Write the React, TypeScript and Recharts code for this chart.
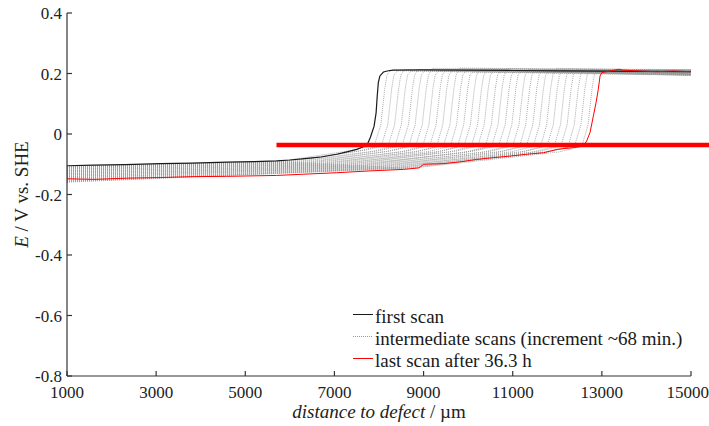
import { LineChart, Line, XAxis, YAxis, ReferenceLine, Legend } from 'recharts';

type Pt = [number, number];

const xTicks = [1000, 3000, 5000, 7000, 9000, 11000, 13000, 15000];
const yTicks = [-0.8, -0.6, -0.4, -0.2, 0, 0.2, 0.4];

// first scan (black)
const firstScan: Pt[] = [
  [1000, -0.105], [1600, -0.103], [2300, -0.101], [3100, -0.098], [3800, -0.096], [4600, -0.093],
  [5200, -0.091], [5700, -0.089], [6000, -0.086], [6450, -0.080], [6700, -0.076], [7050, -0.067],
  [7280, -0.059], [7500, -0.051], [7650, -0.042], [7740, -0.034], [7810, -0.010], [7890, 0.026],
  [7935, 0.070], [7960, 0.125], [7985, 0.170], [8020, 0.192], [8100, 0.205], [8210, 0.209],
  [8320, 0.211], [9000, 0.212], [10000, 0.211], [11000, 0.210], [12000, 0.209], [13000, 0.208],
  [14000, 0.207], [15000, 0.206],
];

// last scan after 36.3 h (red)
const lastScan: Pt[] = [
  [1000, -0.148], [1600, -0.150], [2340, -0.146], [3090, -0.144], [3830, -0.141], [4580, -0.140],
  [5700, -0.137], [6300, -0.133], [7050, -0.128], [7800, -0.122], [8550, -0.117], [8900, -0.112],
  [9000, -0.100], [9440, -0.098], [9820, -0.092], [10190, -0.084], [10570, -0.078], [10940, -0.073],
  [11310, -0.067], [11690, -0.062], [11990, -0.051], [12360, -0.045], [12580, -0.040], [12660, -0.023],
  [12735, 0.005], [12810, 0.060], [12870, 0.104], [12920, 0.148], [12960, 0.192], [13000, 0.203],
  [13180, 0.208], [13370, 0.214], [13480, 0.211], [13860, 0.208], [14230, 0.206], [14600, 0.208],
  [15000, 0.206],
];

// intermediate scans: [step centre, knee x, E at knee, E at 1000 µm, E at step foot, E plateau, E at 15000 µm]
const midScans = [
  [8100, 5800, -0.090, -0.108, -0.036, 0.211, 0.209],
  [8255, 5900, -0.091, -0.110, -0.038, 0.209, 0.197],
  [8410, 6000, -0.091, -0.112, -0.035, 0.212, 0.212],
  [8560, 6100, -0.092, -0.111, -0.039, 0.208, 0.194],
  [8720, 6200, -0.093, -0.115, -0.037, 0.213, 0.205],
  [8870, 6300, -0.094, -0.117, -0.040, 0.210, 0.199],
  [9030, 6400, -0.095, -0.116, -0.036, 0.217, 0.213],
  [9180, 6500, -0.095, -0.120, -0.041, 0.209, 0.195],
  [9340, 6600, -0.096, -0.122, -0.038, 0.212, 0.207],
  [9490, 6700, -0.097, -0.121, -0.042, 0.210, 0.198],
  [9650, 6800, -0.098, -0.125, -0.037, 0.218, 0.211],
  [9800, 6900, -0.098, -0.127, -0.040, 0.211, 0.194],
  [9960, 7000, -0.099, -0.126, -0.043, 0.205, 0.203],
  [10110, 7100, -0.100, -0.130, -0.038, 0.213, 0.200],
  [10270, 7200, -0.101, -0.132, -0.041, 0.210, 0.210],
  [10420, 7300, -0.101, -0.131, -0.039, 0.212, 0.196],
  [10580, 7400, -0.102, -0.135, -0.044, 0.209, 0.206],
  [10730, 7500, -0.103, -0.137, -0.040, 0.216, 0.199],
  [10890, 7600, -0.104, -0.136, -0.037, 0.211, 0.212],
  [11040, 7700, -0.104, -0.140, -0.042, 0.208, 0.195],
  [11200, 7800, -0.105, -0.142, -0.039, 0.213, 0.208],
  [11350, 7900, -0.106, -0.141, -0.043, 0.210, 0.197],
  [11510, 8000, -0.107, -0.145, -0.038, 0.212, 0.204],
  [11660, 8100, -0.107, -0.147, -0.041, 0.209, 0.201],
  [11820, 8200, -0.108, -0.146, -0.044, 0.217, 0.210],
  [11970, 8300, -0.109, -0.150, -0.039, 0.211, 0.194],
  [12130, 8400, -0.110, -0.152, -0.042, 0.205, 0.203],
  [12280, 8500, -0.110, -0.155, -0.040, 0.213, 0.199],
  [12440, 8600, -0.111, -0.158, -0.043, 0.210, 0.207],
  [12590, 8700, -0.112, -0.156, -0.038, 0.212, 0.202],
  [12750, 8800, -0.112, -0.159, -0.041, 0.209, 0.205],
];

const toRows = (pts: Pt[]) => pts.map(([x, y]) => ({ x, y }));

const midRows = midScans.map(([m, kx, ky, s, fy, top, end]) =>
  toRows([
    [1000, s], [kx, ky], [m - 700, fy - 0.018], [m - 200, fy], [m - 60, 0.03],
    [m + 30, 0.15], [m + 80, 0.195], [m + 160, top], [15000, end],
  ])
);

const FONT = '"Liberation Serif", "Times New Roman", serif';
const AXIS = '#333';

const legendItems = [
  { label: 'first scan', color: '#1a1a1a', dash: undefined },
  { label: 'intermediate scans (increment ~68 min.)', color: '#999', dash: '1 1' },
  { label: 'last scan after 36.3 h', color: '#ff0000', dash: undefined },
];

const renderLegend = () => (
  <div style={{ fontFamily: FONT, fontSize: 19, color: '#1a1a1a', lineHeight: '22px' }}>
    {legendItems.map((it) => (
      <div key={it.label} style={{ display: 'flex', alignItems: 'flex-start', height: 22, whiteSpace: 'nowrap' }}>
        <svg width={20} height={3} style={{ marginTop: 7 }}>
          <line x1={0} y1={1.5} x2={20} y2={1.5} stroke={it.color} strokeWidth={1} strokeDasharray={it.dash} />
        </svg>
        <span style={{ marginLeft: 2 }}>{it.label}</span>
      </div>
    ))}
  </div>
);

export default function App() {
  return (
    <div style={{ position: 'absolute', left: 0, top: 0, background: '#fff' }}>
      <LineChart width={709} height={426} margin={{ top: 13, right: 18, bottom: 0, left: 0 }}>
        <XAxis
          dataKey="x"
          type="number"
          domain={[1000, 15000]}
          ticks={xTicks}
          allowDataOverflow
          height={50}
          tickSize={-5}
          tickMargin={15}
          stroke={AXIS}
          strokeWidth={1.2}
          tick={{ fill: '#222', fontSize: 17, fontFamily: FONT }}
          label={(p: any) => (
            <text
              x={p.viewBox.x + p.viewBox.width / 2}
              y={p.viewBox.y + 42}
              textAnchor="middle"
              fontFamily={FONT}
              fontSize={19}
              fill="#222"
            >
              <tspan fontStyle="italic">distance to defect</tspan> / µm
            </text>
          )}
        />
        <XAxis
          xAxisId="top"
          orientation="top"
          dataKey="x"
          type="number"
          domain={[1000, 15000]}
          ticks={xTicks}
          allowDataOverflow
          height={0}
          tickSize={-5}
          tick={false}
          stroke={AXIS}
          strokeWidth={1.2}
        />
        <YAxis
          type="number"
          domain={[-0.8, 0.4]}
          ticks={yTicks}
          allowDataOverflow
          width={67}
          tickSize={-5}
          tickMargin={10}
          stroke={AXIS}
          strokeWidth={1.2}
          tick={{ fill: '#222', fontSize: 17, fontFamily: FONT }}
          label={(p: any) => (
            <text
              transform={`translate(28,${p.viewBox.y + p.viewBox.height / 2}) rotate(-90)`}
              textAnchor="middle"
              fontFamily={FONT}
              fontSize={19}
              fill="#222"
            >
              <tspan fontStyle="italic">E</tspan> / V vs. SHE
            </text>
          )}
        />
        <YAxis
          yAxisId="right"
          orientation="right"
          type="number"
          domain={[-0.8, 0.4]}
          ticks={yTicks}
          allowDataOverflow
          width={0}
          tickSize={-5}
          tick={false}
          stroke={AXIS}
          strokeWidth={1.2}
        />

        {midRows.map((rows, i) => (
          <Line
            key={`mid-${i}`}
            data={rows}
            dataKey="y"
            type="linear"
            stroke="#959595"
            strokeWidth={0.8}
            strokeDasharray="1 1"
            dot={false}
            activeDot={false}
            isAnimationActive={false}
          />
        ))}
        <Line
          data={toRows(firstScan)}
          dataKey="y"
          type="linear"
          stroke="#1a1a1a"
          strokeWidth={1.2}
          dot={false}
          activeDot={false}
          isAnimationActive={false}
        />
        <Line
          data={toRows(lastScan)}
          dataKey="y"
          type="linear"
          stroke="#ff0000"
          strokeWidth={1}
          dot={false}
          activeDot={false}
          isAnimationActive={false}
        />

        <ReferenceLine
          segment={[{ x: 5700, y: -0.036 }, { x: 15600, y: -0.036 }]}
          stroke="#ff0000"
          strokeWidth={4.5}
          ifOverflow="visible"
        />

        <Legend
          layout="vertical"
          align="center"
          verticalAlign="middle"
          content={renderLegend}
          wrapperStyle={{ left: 353, top: 306, width: 350, height: 66 }}
        />
      </LineChart>
    </div>
  );
}
